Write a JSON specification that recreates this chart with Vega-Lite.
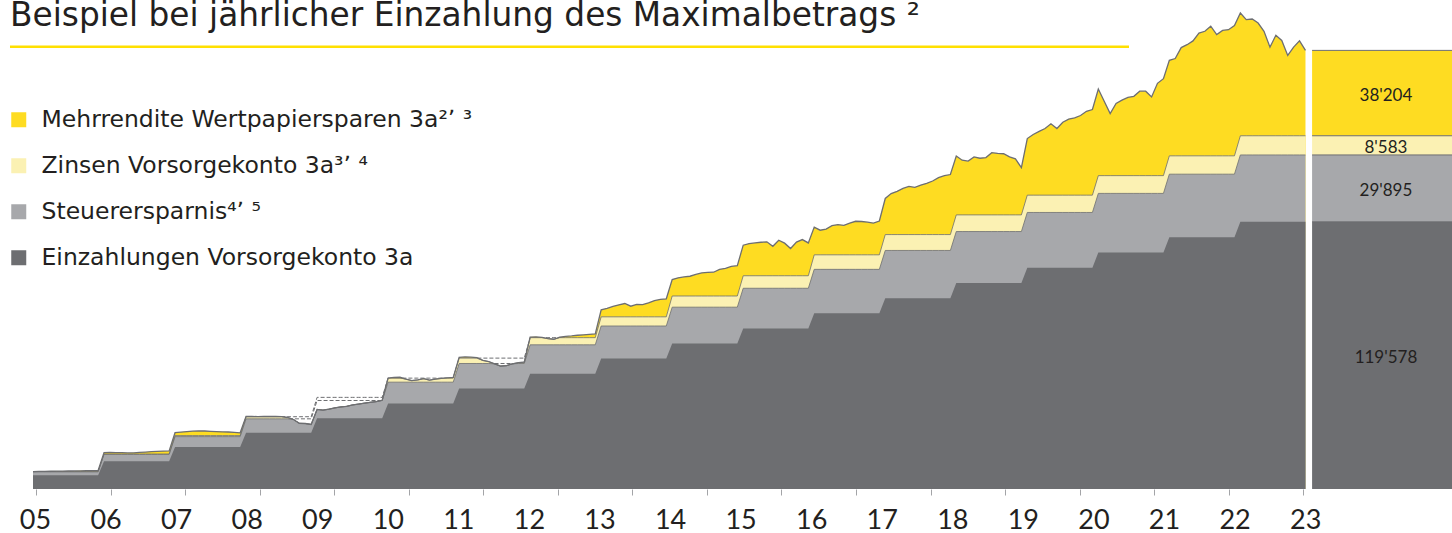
{
"$schema": "https://vega.github.io/schema/vega-lite/v6.json",
"width": 1452,
"height": 489,
"autosize": "none",
"padding": {"left": 0, "top": 0, "right": 0, "bottom": 44},
"background": "#ffffff",
"config": {"view": {"stroke": null}, "font": "Lato"},
"title": {"text": "Beispiel bei jährlicher Einzahlung des Maximalbetrags ²", "anchor": "start", "frame": "group", "orient": "top", "offset": -31, "baseline": "alphabetic", "dx": 10, "dy": 28, "fontSize": 32.8, "fontWeight": "normal", "font": "DejaVu Sans", "color": "#231f20"},
"datasets": {
"m": [
{"t":2005,"d":6192,"g":7740,"z":7740,"y":7800,"zv":7740,"gv":7740},
{"t":2005.083,"d":6192,"g":7740,"z":7740,"y":7850,"zv":7740,"gv":7740},
{"t":2005.167,"d":6192,"g":7740,"z":7740,"y":7900,"zv":7740,"gv":7740},
{"t":2005.25,"d":6192,"g":7740,"z":7740,"y":7950,"zv":7740,"gv":7740},
{"t":2005.333,"d":6192,"g":7740,"z":7740,"y":7980,"zv":7740,"gv":7740},
{"t":2005.417,"d":6192,"g":7740,"z":7740,"y":8000,"zv":7740,"gv":7740},
{"t":2005.5,"d":6192,"g":7740,"z":7740,"y":8050,"zv":7740,"gv":7740},
{"t":2005.583,"d":6192,"g":7740,"z":7740,"y":8100,"zv":7740,"gv":7740},
{"t":2005.667,"d":6192,"g":7740,"z":7740,"y":8150,"zv":7740,"gv":7740},
{"t":2005.75,"d":6192,"g":7740,"z":7740,"y":8200,"zv":7740,"gv":7740},
{"t":2005.833,"d":6192,"g":7740,"z":7740,"y":8250,"zv":7740,"gv":7740},
{"t":2005.917,"d":6192,"g":7740,"z":7740,"y":8300,"zv":7740,"gv":7740},
{"t":2006,"d":12384,"g":15480,"z":15650,"y":16300,"zv":15650,"gv":15480},
{"t":2006.083,"d":12384,"g":15480,"z":15650,"y":16350,"zv":15650,"gv":15480},
{"t":2006.167,"d":12384,"g":15480,"z":15650,"y":16300,"zv":15650,"gv":15480},
{"t":2006.25,"d":12384,"g":15480,"z":15650,"y":16250,"zv":15650,"gv":15480},
{"t":2006.333,"d":12384,"g":15480,"z":15650,"y":16150,"zv":15650,"gv":15480},
{"t":2006.417,"d":12384,"g":15480,"z":15650,"y":16200,"zv":15650,"gv":15480},
{"t":2006.5,"d":12384,"g":15480,"z":15650,"y":16350,"zv":15650,"gv":15480},
{"t":2006.583,"d":12384,"g":15480,"z":15650,"y":16500,"zv":15650,"gv":15480},
{"t":2006.667,"d":12384,"g":15480,"z":15650,"y":16700,"zv":15650,"gv":15480},
{"t":2006.75,"d":12384,"g":15480,"z":15650,"y":16850,"zv":15650,"gv":15480},
{"t":2006.833,"d":12384,"g":15480,"z":15650,"y":16950,"zv":15650,"gv":15480},
{"t":2006.917,"d":12384,"g":15480,"z":15650,"y":17050,"zv":15650,"gv":15480},
{"t":2007,"d":18749,"g":23436,"z":23916,"y":25200,"zv":23916,"gv":23436},
{"t":2007.083,"d":18749,"g":23436,"z":23916,"y":25450,"zv":23916,"gv":23436},
{"t":2007.167,"d":18749,"g":23436,"z":23916,"y":25700,"zv":23916,"gv":23436},
{"t":2007.25,"d":18749,"g":23436,"z":23916,"y":25900,"zv":23916,"gv":23436},
{"t":2007.333,"d":18749,"g":23436,"z":23916,"y":26000,"zv":23916,"gv":23436},
{"t":2007.417,"d":18749,"g":23436,"z":23916,"y":25950,"zv":23916,"gv":23436},
{"t":2007.5,"d":18749,"g":23436,"z":23916,"y":25800,"zv":23916,"gv":23436},
{"t":2007.583,"d":18749,"g":23436,"z":23916,"y":25700,"zv":23916,"gv":23436},
{"t":2007.667,"d":18749,"g":23436,"z":23916,"y":25600,"zv":23916,"gv":23436},
{"t":2007.75,"d":18749,"g":23436,"z":23916,"y":25500,"zv":23916,"gv":23436},
{"t":2007.833,"d":18749,"g":23436,"z":23916,"y":25300,"zv":23916,"gv":23436},
{"t":2007.917,"d":18749,"g":23436,"z":23916,"y":25150,"zv":23916,"gv":23436},
{"t":2008,"d":25114,"g":31393,"z":32343,"y":32500,"zv":32343,"gv":31393},
{"t":2008.083,"d":25114,"g":31393,"z":32343,"y":32450,"zv":32343,"gv":31393},
{"t":2008.167,"d":25114,"g":31393,"z":32343,"y":32400,"zv":32343,"gv":31393},
{"t":2008.25,"d":25114,"g":31393,"z":32343,"y":32450,"zv":32343,"gv":31393},
{"t":2008.333,"d":25114,"g":31393,"z":32343,"y":32500,"zv":32343,"gv":31393},
{"t":2008.417,"d":25114,"g":31393,"z":32343,"y":32450,"zv":32343,"gv":31393},
{"t":2008.5,"d":25114,"g":31393,"z":32343,"y":32400,"zv":32343,"gv":31393},
{"t":2008.583,"d":25114,"g":31393,"z":32343,"y":32000,"zv":32000,"gv":31393},
{"t":2008.667,"d":25114,"g":31393,"z":32343,"y":31100,"zv":31100,"gv":31100},
{"t":2008.75,"d":25114,"g":31393,"z":32343,"y":29400,"zv":29400,"gv":29400},
{"t":2008.833,"d":25114,"g":31393,"z":32343,"y":29300,"zv":29300,"gv":29300},
{"t":2008.917,"d":25114,"g":31393,"z":32343,"y":28900,"zv":28900,"gv":28900},
{"t":2009,"d":31680,"g":39600,"z":41000,"y":35600,"zv":35600,"gv":35600},
{"t":2009.083,"d":31680,"g":39600,"z":41000,"y":35300,"zv":35300,"gv":35300},
{"t":2009.167,"d":31680,"g":39600,"z":41000,"y":35700,"zv":35700,"gv":35700},
{"t":2009.25,"d":31680,"g":39600,"z":41000,"y":36300,"zv":36300,"gv":36300},
{"t":2009.333,"d":31680,"g":39600,"z":41000,"y":36700,"zv":36700,"gv":36700},
{"t":2009.417,"d":31680,"g":39600,"z":41000,"y":37000,"zv":37000,"gv":37000},
{"t":2009.5,"d":31680,"g":39600,"z":41000,"y":37600,"zv":37600,"gv":37600},
{"t":2009.583,"d":31680,"g":39600,"z":41000,"y":38000,"zv":38000,"gv":38000},
{"t":2009.667,"d":31680,"g":39600,"z":41000,"y":38400,"zv":38400,"gv":38400},
{"t":2009.75,"d":31680,"g":39600,"z":41000,"y":38800,"zv":38800,"gv":38800},
{"t":2009.833,"d":31680,"g":39600,"z":41000,"y":39100,"zv":39100,"gv":39100},
{"t":2009.917,"d":31680,"g":39600,"z":41000,"y":39700,"zv":39700,"gv":39600},
{"t":2010,"d":38246,"g":47808,"z":49608,"y":49600,"zv":49600,"gv":47808},
{"t":2010.083,"d":38246,"g":47808,"z":49608,"y":49900,"zv":49608,"gv":47808},
{"t":2010.167,"d":38246,"g":47808,"z":49608,"y":50000,"zv":49608,"gv":47808},
{"t":2010.25,"d":38246,"g":47808,"z":49608,"y":49200,"zv":49200,"gv":47808},
{"t":2010.333,"d":38246,"g":47808,"z":49608,"y":48500,"zv":48500,"gv":47808},
{"t":2010.417,"d":38246,"g":47808,"z":49608,"y":48800,"zv":48800,"gv":47808},
{"t":2010.5,"d":38246,"g":47808,"z":49608,"y":49400,"zv":49400,"gv":47808},
{"t":2010.583,"d":38246,"g":47808,"z":49608,"y":48700,"zv":48700,"gv":47808},
{"t":2010.667,"d":38246,"g":47808,"z":49608,"y":49200,"zv":49200,"gv":47808},
{"t":2010.75,"d":38246,"g":47808,"z":49608,"y":49500,"zv":49500,"gv":47808},
{"t":2010.833,"d":38246,"g":47808,"z":49608,"y":49700,"zv":49608,"gv":47808},
{"t":2010.917,"d":38246,"g":47808,"z":49608,"y":49900,"zv":49608,"gv":47808},
{"t":2011,"d":44928,"g":56160,"z":58560,"y":58900,"zv":58560,"gv":56160},
{"t":2011.083,"d":44928,"g":56160,"z":58560,"y":59100,"zv":58560,"gv":56160},
{"t":2011.167,"d":44928,"g":56160,"z":58560,"y":59000,"zv":58560,"gv":56160},
{"t":2011.25,"d":44928,"g":56160,"z":58560,"y":58800,"zv":58560,"gv":56160},
{"t":2011.333,"d":44928,"g":56160,"z":58560,"y":57600,"zv":57600,"gv":56160},
{"t":2011.417,"d":44928,"g":56160,"z":58560,"y":57000,"zv":57000,"gv":56160},
{"t":2011.5,"d":44928,"g":56160,"z":58560,"y":56000,"zv":56000,"gv":56000},
{"t":2011.583,"d":44928,"g":56160,"z":58560,"y":55000,"zv":55000,"gv":55000},
{"t":2011.667,"d":44928,"g":56160,"z":58560,"y":55200,"zv":55200,"gv":55200},
{"t":2011.75,"d":44928,"g":56160,"z":58560,"y":56000,"zv":56000,"gv":56000},
{"t":2011.833,"d":44928,"g":56160,"z":58560,"y":56500,"zv":56500,"gv":56160},
{"t":2011.917,"d":44928,"g":56160,"z":58560,"y":56800,"zv":56800,"gv":56160},
{"t":2012,"d":51610,"g":64513,"z":67713,"y":68000,"zv":67713,"gv":64513},
{"t":2012.083,"d":51610,"g":64513,"z":67713,"y":68100,"zv":67713,"gv":64513},
{"t":2012.167,"d":51610,"g":64513,"z":67713,"y":67800,"zv":67713,"gv":64513},
{"t":2012.25,"d":51610,"g":64513,"z":67713,"y":67300,"zv":67300,"gv":64513},
{"t":2012.333,"d":51610,"g":64513,"z":67713,"y":67000,"zv":67000,"gv":64513},
{"t":2012.417,"d":51610,"g":64513,"z":67713,"y":67900,"zv":67713,"gv":64513},
{"t":2012.5,"d":51610,"g":64513,"z":67713,"y":68300,"zv":67713,"gv":64513},
{"t":2012.583,"d":51610,"g":64513,"z":67713,"y":68500,"zv":67713,"gv":64513},
{"t":2012.667,"d":51610,"g":64513,"z":67713,"y":68800,"zv":67713,"gv":64513},
{"t":2012.75,"d":51610,"g":64513,"z":67713,"y":69000,"zv":67713,"gv":64513},
{"t":2012.833,"d":51610,"g":64513,"z":67713,"y":69200,"zv":67713,"gv":64513},
{"t":2012.917,"d":51610,"g":64513,"z":67713,"y":69400,"zv":67713,"gv":64513},
{"t":2013,"d":58349,"g":72936,"z":77036,"y":80200,"zv":77036,"gv":72936},
{"t":2013.083,"d":58349,"g":72936,"z":77036,"y":80800,"zv":77036,"gv":72936},
{"t":2013.167,"d":58349,"g":72936,"z":77036,"y":81700,"zv":77036,"gv":72936},
{"t":2013.25,"d":58349,"g":72936,"z":77036,"y":82400,"zv":77036,"gv":72936},
{"t":2013.333,"d":58349,"g":72936,"z":77036,"y":83000,"zv":77036,"gv":72936},
{"t":2013.417,"d":58349,"g":72936,"z":77036,"y":81800,"zv":77036,"gv":72936},
{"t":2013.5,"d":58349,"g":72936,"z":77036,"y":82600,"zv":77036,"gv":72936},
{"t":2013.583,"d":58349,"g":72936,"z":77036,"y":82500,"zv":77036,"gv":72936},
{"t":2013.667,"d":58349,"g":72936,"z":77036,"y":83300,"zv":77036,"gv":72936},
{"t":2013.75,"d":58349,"g":72936,"z":77036,"y":84300,"zv":77036,"gv":72936},
{"t":2013.833,"d":58349,"g":72936,"z":77036,"y":84800,"zv":77036,"gv":72936},
{"t":2013.917,"d":58349,"g":72936,"z":77036,"y":85100,"zv":77036,"gv":72936},
{"t":2014,"d":65088,"g":81360,"z":86360,"y":93700,"zv":86360,"gv":81360},
{"t":2014.083,"d":65088,"g":81360,"z":86360,"y":94500,"zv":86360,"gv":81360},
{"t":2014.167,"d":65088,"g":81360,"z":86360,"y":94900,"zv":86360,"gv":81360},
{"t":2014.25,"d":65088,"g":81360,"z":86360,"y":95200,"zv":86360,"gv":81360},
{"t":2014.333,"d":65088,"g":81360,"z":86360,"y":96000,"zv":86360,"gv":81360},
{"t":2014.417,"d":65088,"g":81360,"z":86360,"y":96700,"zv":86360,"gv":81360},
{"t":2014.5,"d":65088,"g":81360,"z":86360,"y":96900,"zv":86360,"gv":81360},
{"t":2014.583,"d":65088,"g":81360,"z":86360,"y":97000,"zv":86360,"gv":81360},
{"t":2014.667,"d":65088,"g":81360,"z":86360,"y":98300,"zv":86360,"gv":81360},
{"t":2014.75,"d":65088,"g":81360,"z":86360,"y":98700,"zv":86360,"gv":81360},
{"t":2014.833,"d":65088,"g":81360,"z":86360,"y":99600,"zv":86360,"gv":81360},
{"t":2014.917,"d":65088,"g":81360,"z":86360,"y":99900,"zv":86360,"gv":81360},
{"t":2015,"d":71856,"g":89820,"z":95420,"y":109100,"zv":95420,"gv":89820},
{"t":2015.083,"d":71856,"g":89820,"z":95420,"y":109800,"zv":95420,"gv":89820},
{"t":2015.167,"d":71856,"g":89820,"z":95420,"y":110100,"zv":95420,"gv":89820},
{"t":2015.25,"d":71856,"g":89820,"z":95420,"y":110400,"zv":95420,"gv":89820},
{"t":2015.333,"d":71856,"g":89820,"z":95420,"y":110600,"zv":95420,"gv":89820},
{"t":2015.417,"d":71856,"g":89820,"z":95420,"y":108600,"zv":95420,"gv":89820},
{"t":2015.5,"d":71856,"g":89820,"z":95420,"y":111300,"zv":95420,"gv":89820},
{"t":2015.583,"d":71856,"g":89820,"z":95420,"y":110000,"zv":95420,"gv":89820},
{"t":2015.667,"d":71856,"g":89820,"z":95420,"y":107600,"zv":95420,"gv":89820},
{"t":2015.75,"d":71856,"g":89820,"z":95420,"y":110500,"zv":95420,"gv":89820},
{"t":2015.833,"d":71856,"g":89820,"z":95420,"y":111600,"zv":95420,"gv":89820},
{"t":2015.917,"d":71856,"g":89820,"z":95420,"y":110100,"zv":95420,"gv":89820},
{"t":2016,"d":78624,"g":98280,"z":104780,"y":117200,"zv":104780,"gv":98280},
{"t":2016.083,"d":78624,"g":98280,"z":104780,"y":115800,"zv":104780,"gv":98280},
{"t":2016.167,"d":78624,"g":98280,"z":104780,"y":116300,"zv":104780,"gv":98280},
{"t":2016.25,"d":78624,"g":98280,"z":104780,"y":117800,"zv":104780,"gv":98280},
{"t":2016.333,"d":78624,"g":98280,"z":104780,"y":118300,"zv":104780,"gv":98280},
{"t":2016.417,"d":78624,"g":98280,"z":104780,"y":118000,"zv":104780,"gv":98280},
{"t":2016.5,"d":78624,"g":98280,"z":104780,"y":119000,"zv":104780,"gv":98280},
{"t":2016.583,"d":78624,"g":98280,"z":104780,"y":119800,"zv":104780,"gv":98280},
{"t":2016.667,"d":78624,"g":98280,"z":104780,"y":119700,"zv":104780,"gv":98280},
{"t":2016.75,"d":78624,"g":98280,"z":104780,"y":119400,"zv":104780,"gv":98280},
{"t":2016.833,"d":78624,"g":98280,"z":104780,"y":119000,"zv":104780,"gv":98280},
{"t":2016.917,"d":78624,"g":98280,"z":104780,"y":119900,"zv":104780,"gv":98280},
{"t":2017,"d":85392,"g":106740,"z":113840,"y":130000,"zv":113840,"gv":106740},
{"t":2017.083,"d":85392,"g":106740,"z":113840,"y":132200,"zv":113840,"gv":106740},
{"t":2017.167,"d":85392,"g":106740,"z":113840,"y":133200,"zv":113840,"gv":106740},
{"t":2017.25,"d":85392,"g":106740,"z":113840,"y":134500,"zv":113840,"gv":106740},
{"t":2017.333,"d":85392,"g":106740,"z":113840,"y":135400,"zv":113840,"gv":106740},
{"t":2017.417,"d":85392,"g":106740,"z":113840,"y":135000,"zv":113840,"gv":106740},
{"t":2017.5,"d":85392,"g":106740,"z":113840,"y":136000,"zv":113840,"gv":106740},
{"t":2017.583,"d":85392,"g":106740,"z":113840,"y":136800,"zv":113840,"gv":106740},
{"t":2017.667,"d":85392,"g":106740,"z":113840,"y":137800,"zv":113840,"gv":106740},
{"t":2017.75,"d":85392,"g":106740,"z":113840,"y":139300,"zv":113840,"gv":106740},
{"t":2017.833,"d":85392,"g":106740,"z":113840,"y":140200,"zv":113840,"gv":106740},
{"t":2017.917,"d":85392,"g":106740,"z":113840,"y":140700,"zv":113840,"gv":106740},
{"t":2018,"d":92160,"g":115200,"z":122650,"y":149000,"zv":122650,"gv":115200},
{"t":2018.083,"d":92160,"g":115200,"z":122650,"y":147100,"zv":122650,"gv":115200},
{"t":2018.167,"d":92160,"g":115200,"z":122650,"y":146700,"zv":122650,"gv":115200},
{"t":2018.25,"d":92160,"g":115200,"z":122650,"y":148600,"zv":122650,"gv":115200},
{"t":2018.333,"d":92160,"g":115200,"z":122650,"y":148000,"zv":122650,"gv":115200},
{"t":2018.417,"d":92160,"g":115200,"z":122650,"y":148300,"zv":122650,"gv":115200},
{"t":2018.5,"d":92160,"g":115200,"z":122650,"y":150500,"zv":122650,"gv":115200},
{"t":2018.583,"d":92160,"g":115200,"z":122650,"y":150200,"zv":122650,"gv":115200},
{"t":2018.667,"d":92160,"g":115200,"z":122650,"y":150000,"zv":122650,"gv":115200},
{"t":2018.75,"d":92160,"g":115200,"z":122650,"y":148600,"zv":122650,"gv":115200},
{"t":2018.833,"d":92160,"g":115200,"z":122650,"y":147700,"zv":122650,"gv":115200},
{"t":2018.917,"d":92160,"g":115200,"z":122650,"y":143800,"zv":122650,"gv":115200},
{"t":2019,"d":98986,"g":123733,"z":131483,"y":156800,"zv":131483,"gv":123733},
{"t":2019.083,"d":98986,"g":123733,"z":131483,"y":158600,"zv":131483,"gv":123733},
{"t":2019.167,"d":98986,"g":123733,"z":131483,"y":160000,"zv":131483,"gv":123733},
{"t":2019.25,"d":98986,"g":123733,"z":131483,"y":161300,"zv":131483,"gv":123733},
{"t":2019.333,"d":98986,"g":123733,"z":131483,"y":163400,"zv":131483,"gv":123733},
{"t":2019.417,"d":98986,"g":123733,"z":131483,"y":161300,"zv":131483,"gv":123733},
{"t":2019.5,"d":98986,"g":123733,"z":131483,"y":164100,"zv":131483,"gv":123733},
{"t":2019.583,"d":98986,"g":123733,"z":131483,"y":165500,"zv":131483,"gv":123733},
{"t":2019.667,"d":98986,"g":123733,"z":131483,"y":166100,"zv":131483,"gv":123733},
{"t":2019.75,"d":98986,"g":123733,"z":131483,"y":167100,"zv":131483,"gv":123733},
{"t":2019.833,"d":98986,"g":123733,"z":131483,"y":169000,"zv":131483,"gv":123733},
{"t":2019.917,"d":98986,"g":123733,"z":131483,"y":169800,"zv":131483,"gv":123733},
{"t":2020,"d":105812,"g":132265,"z":140215,"y":179000,"zv":140215,"gv":132265},
{"t":2020.083,"d":105812,"g":132265,"z":140215,"y":173500,"zv":140215,"gv":132265},
{"t":2020.167,"d":105812,"g":132265,"z":140215,"y":168000,"zv":140215,"gv":132265},
{"t":2020.25,"d":105812,"g":132265,"z":140215,"y":172500,"zv":140215,"gv":132265},
{"t":2020.333,"d":105812,"g":132265,"z":140215,"y":174000,"zv":140215,"gv":132265},
{"t":2020.417,"d":105812,"g":132265,"z":140215,"y":175200,"zv":140215,"gv":132265},
{"t":2020.5,"d":105812,"g":132265,"z":140215,"y":175700,"zv":140215,"gv":132265},
{"t":2020.583,"d":105812,"g":132265,"z":140215,"y":178000,"zv":140215,"gv":132265},
{"t":2020.667,"d":105812,"g":132265,"z":140215,"y":178000,"zv":140215,"gv":132265},
{"t":2020.75,"d":105812,"g":132265,"z":140215,"y":175400,"zv":140215,"gv":132265},
{"t":2020.833,"d":105812,"g":132265,"z":140215,"y":181500,"zv":140215,"gv":132265},
{"t":2020.917,"d":105812,"g":132265,"z":140215,"y":183600,"zv":140215,"gv":132265},
{"t":2021,"d":112695,"g":140869,"z":149069,"y":191800,"zv":149069,"gv":140869},
{"t":2021.083,"d":112695,"g":140869,"z":149069,"y":192600,"zv":149069,"gv":140869},
{"t":2021.167,"d":112695,"g":140869,"z":149069,"y":197500,"zv":149069,"gv":140869},
{"t":2021.25,"d":112695,"g":140869,"z":149069,"y":198800,"zv":149069,"gv":140869},
{"t":2021.333,"d":112695,"g":140869,"z":149069,"y":200500,"zv":149069,"gv":140869},
{"t":2021.417,"d":112695,"g":140869,"z":149069,"y":204000,"zv":149069,"gv":140869},
{"t":2021.5,"d":112695,"g":140869,"z":149069,"y":204800,"zv":149069,"gv":140869},
{"t":2021.583,"d":112695,"g":140869,"z":149069,"y":207100,"zv":149069,"gv":140869},
{"t":2021.667,"d":112695,"g":140869,"z":149069,"y":203300,"zv":149069,"gv":140869},
{"t":2021.75,"d":112695,"g":140869,"z":149069,"y":205200,"zv":149069,"gv":140869},
{"t":2021.833,"d":112695,"g":140869,"z":149069,"y":205500,"zv":149069,"gv":140869},
{"t":2021.917,"d":112695,"g":140869,"z":149069,"y":207400,"zv":149069,"gv":140869},
{"t":2022,"d":119578,"g":149473,"z":158056,"y":213000,"zv":158056,"gv":149473},
{"t":2022.083,"d":119578,"g":149473,"z":158056,"y":210000,"zv":158056,"gv":149473},
{"t":2022.167,"d":119578,"g":149473,"z":158056,"y":210300,"zv":158056,"gv":149473},
{"t":2022.25,"d":119578,"g":149473,"z":158056,"y":208500,"zv":158056,"gv":149473},
{"t":2022.333,"d":119578,"g":149473,"z":158056,"y":204800,"zv":158056,"gv":149473},
{"t":2022.417,"d":119578,"g":149473,"z":158056,"y":197700,"zv":158056,"gv":149473},
{"t":2022.5,"d":119578,"g":149473,"z":158056,"y":203000,"zv":158056,"gv":149473},
{"t":2022.583,"d":119578,"g":149473,"z":158056,"y":200700,"zv":158056,"gv":149473},
{"t":2022.667,"d":119578,"g":149473,"z":158056,"y":194000,"zv":158056,"gv":149473},
{"t":2022.75,"d":119578,"g":149473,"z":158056,"y":197700,"zv":158056,"gv":149473},
{"t":2022.833,"d":119578,"g":149473,"z":158056,"y":200500,"zv":158056,"gv":149473},
{"t":2022.917,"d":119578,"g":149473,"z":158056,"y":196260,"zv":158056,"gv":149473}
],
"bar": [
{"cat": "Einzahlungen Vorsorgekonto 3a", "amt": 119578, "o": 1, "lab": "119'578"},
{"cat": "Steuerersparnis⁴ʼ ⁵", "amt": 29895, "o": 2, "lab": "29'895"},
{"cat": "Zinsen Vorsorgekonto 3a³ʼ ⁴", "amt": 8583, "o": 3, "lab": "8'583"},
{"cat": "Mehrrendite Wertpapiersparen 3a²ʼ ³", "amt": 38204, "o": 4, "lab": "38'204"}
]
},
"layer": [
{
"data": {"name": "m"},
"mark": {"type": "line", "color": "#6d6e71", "strokeWidth": 1, "strokeDash": [4, 2]},
"encoding": {
"x": {"field": "t", "type": "quantitative", "scale": {"domain": [2004.5353, 2024.98], "nice": false, "zero": false},
"axis": {"orient": "bottom", "values": [2005.042, 2006.092, 2007.141, 2008.191, 2009.241, 2010.291, 2011.34, 2012.39, 2013.44, 2014.49, 2015.539, 2016.589, 2017.639, 2018.688, 2019.738, 2020.788, 2021.838, 2022.887], "labels": false, "domain": false, "grid": false, "ticks": true, "tickSize": 6, "tickColor": "#a3a4a7", "tickWidth": 1, "title": null}},
"y": {"field": "z", "type": "quantitative", "scale": {"domain": [0, 218800], "nice": false, "zero": true}, "axis": null}
}
},
{
"data": {"name": "m"},
"mark": {"type": "line", "color": "#6d6e71", "strokeWidth": 1, "strokeDash": [4, 2]},
"encoding": {
"x": {"field": "t", "type": "quantitative", "axis": null},
"y": {"field": "g", "type": "quantitative", "axis": null}
}
},
{
"data": {"name": "m"},
"mark": {"type": "area", "orient": "vertical"},
"encoding": {
"x": {"field": "t", "type": "quantitative",
"axis": {"orient": "bottom", "values": [2005.028, 2006.022, 2007.015, 2008.009, 2009.002, 2009.996, 2010.989, 2011.983, 2012.976, 2013.97, 2014.963, 2015.957, 2016.95, 2017.944, 2018.937, 2019.931, 2020.925, 2021.918, 2022.912], "labelExpr": "slice('0' + (round(datum.value) % 100), -2)", "ticks": false, "tickSize": 0, "domain": false, "grid": false, "labelFontSize": 27, "labelFont": "Lato", "labelColor": "#231f20", "labelPadding": 39, "labelBaseline": "alphabetic", "labelAlign": "center", "labelOverlap": false, "labelFlush": false, "title": null}},
"y": {"field": "y", "type": "quantitative", "stack": null, "axis": null},
"color": {"datum": "Mehrrendite Wertpapiersparen 3a²ʼ ³", "type": "nominal", "title": null,
"scale": {"domain": ["Mehrrendite Wertpapiersparen 3a²ʼ ³", "Zinsen Vorsorgekonto 3a³ʼ ⁴", "Steuerersparnis⁴ʼ ⁵", "Einzahlungen Vorsorgekonto 3a"], "range": ["#FEDC22", "#FBF1B3", "#A7A8AB", "#6D6E71"]},
"legend": {"orient": "none", "legendX": 7, "legendY": 108, "title": null, "symbolType": "square", "symbolSize": 225, "symbolStrokeWidth": 0, "symbolOpacity": 1, "labelFontSize": 23.5, "labelFont": "DejaVu Sans", "labelColor": "#231f20", "labelOffset": 11, "rowPadding": 21, "padding": 0, "labelLimit": 700, "direction": "vertical"}}
}
},
{
"data": {"name": "m"},
"mark": {"type": "area", "orient": "vertical"},
"encoding": {
"x": {"field": "t", "type": "quantitative", "axis": null},
"y": {"field": "zv", "type": "quantitative", "stack": null, "axis": null},
"color": {"datum": "Zinsen Vorsorgekonto 3a³ʼ ⁴", "type": "nominal", "title": null}
}
},
{
"data": {"name": "m"},
"mark": {"type": "area", "orient": "vertical"},
"encoding": {
"x": {"field": "t", "type": "quantitative", "axis": null},
"y": {"field": "gv", "type": "quantitative", "stack": null, "axis": null},
"color": {"datum": "Steuerersparnis⁴ʼ ⁵", "type": "nominal", "title": null}
}
},
{
"data": {"name": "m"},
"mark": {"type": "area", "orient": "vertical"},
"encoding": {
"x": {"field": "t", "type": "quantitative", "axis": null},
"y": {"field": "d", "type": "quantitative", "stack": null, "axis": null},
"color": {"datum": "Einzahlungen Vorsorgekonto 3a", "type": "nominal", "title": null}
}
},
{
"data": {"name": "m"},
"mark": {"type": "line", "color": "#6d6e71", "strokeWidth": 0.8},
"encoding": {
"x": {"field": "t", "type": "quantitative", "axis": null},
"y": {"field": "gv", "type": "quantitative", "axis": null}
}
},
{
"data": {"name": "m"},
"mark": {"type": "line", "color": "#6d6e71", "strokeWidth": 0.8},
"encoding": {
"x": {"field": "t", "type": "quantitative", "axis": null},
"y": {"field": "zv", "type": "quantitative", "axis": null}
}
},
{
"data": {"name": "m"},
"mark": {"type": "line", "color": "#6d6e71", "strokeWidth": 1.3},
"encoding": {
"x": {"field": "t", "type": "quantitative", "axis": null},
"y": {"field": "y", "type": "quantitative", "axis": null}
}
},
{
"data": {"name": "bar"},
"transform": [{"stack": "amt", "groupby": [], "sort": [{"field": "o", "order": "ascending"}], "as": ["lo", "hi"]}],
"mark": {"type": "rect"},
"encoding": {
"x": {"datum": 2023.01, "type": "quantitative", "axis": null},
"x2": {"datum": 2024.98},
"y": {"field": "lo", "type": "quantitative", "axis": null},
"y2": {"field": "hi"},
"color": {"field": "cat", "type": "nominal", "title": null}
}
},
{
"data": {"name": "bar"},
"transform": [{"stack": "amt", "groupby": [], "sort": [{"field": "o", "order": "ascending"}], "as": ["lo", "hi"]}],
"mark": {"type": "rule", "color": "#6d6e71", "strokeWidth": 1},
"encoding": {
"x": {"datum": 2023.01, "type": "quantitative", "axis": null},
"x2": {"datum": 2024.98},
"y": {"field": "hi", "type": "quantitative", "axis": null}
}
},
{
"data": {"name": "bar"},
"transform": [{"stack": "amt", "groupby": [], "sort": [{"field": "o", "order": "ascending"}], "as": ["lo", "hi"]}, {"calculate": "(datum.lo + datum.hi) / 2", "as": "mid"}],
"mark": {"type": "text", "fontSize": 17, "font": "Lato", "color": "#231f20", "baseline": "middle", "align": "center", "dy": 3},
"encoding": {
"x": {"datum": 2024.05, "type": "quantitative", "axis": null},
"y": {"field": "mid", "type": "quantitative", "axis": null},
"text": {"field": "lab", "type": "nominal"}
}
},
{
"data": {"values": [{}]},
"mark": {"type": "rule", "color": "#FFE000", "strokeWidth": 2.5},
"encoding": {
"x": {"datum": 2004.676, "type": "quantitative", "axis": null},
"x2": {"datum": 2020.432},
"y": {"datum": 197900, "type": "quantitative", "axis": null}
}
}
],
"resolve": {"scale": {"x": "shared", "y": "shared", "color": "shared"}, "axis": {"x": "independent"}}
}
